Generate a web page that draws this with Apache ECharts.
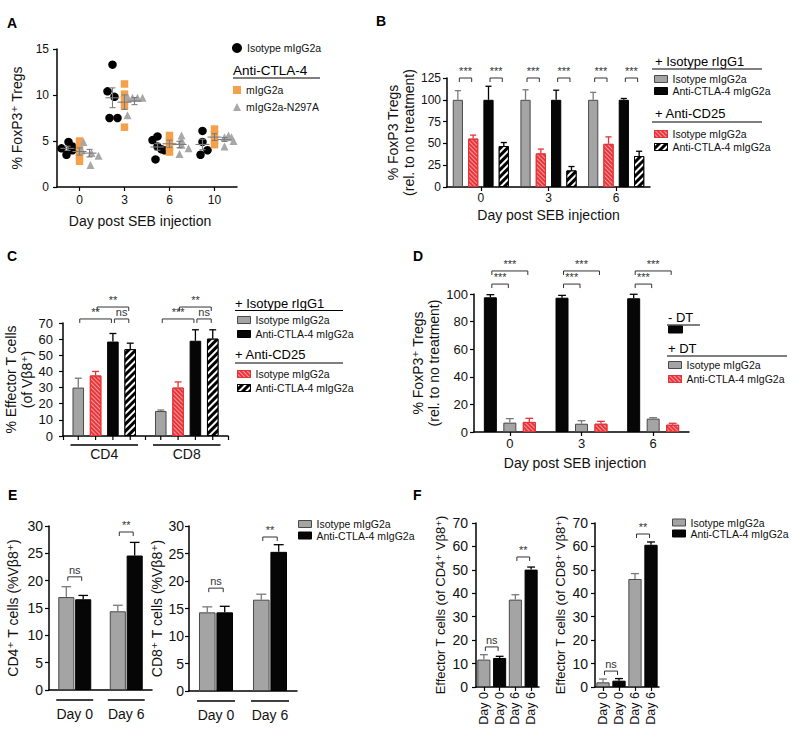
<!DOCTYPE html>
<html><head><meta charset="utf-8">
<script src="https://cdn.jsdelivr.net/npm/echarts@6/dist/echarts.min.js"></script>
<style>html,body{margin:0;padding:0;background:#fff}#c{width:800px;height:741px}</style>
</head><body><div id="c"></div>
<script>
// ================= DATA =================
// Panel A (individual mice)
const A_days = ['0','3','6','10'];
const A_iso = [[4.2,4.9,4.0,3.5,4.4],[13.3,10.4,9.8,7.5,7.5],[5.1,5.5,4.4,4.1,4.0,3.0],[6.1,4.9,3.5,4.0]];
const A_m   = [[5.0,4.4,3.8,3.3,2.8],[11.2,10.1,9.5,8.8,6.5],[5.6,5.0,4.4,3.8],[6.3,5.7,5.1,4.6]];
const A_n   = [[4.9,4.0,3.7,3.4,2.4],[9.8,9.7,9.7,9.7,7.8],[5.6,5.1,4.6,3.6,4.2],[5.4,5.6,5.4,4.4,5.0]];
// Panel B
const B_days = ['0','3','6'];
const B_iso = [100,100,100],    B_iso_err = [10.5,11.5,8.5];
const B_iso25 = [55.5,38.5,49.5], B_iso25_err = [4,5,8];
const B_ctla = [100,100,100],   B_ctla_err = [15.5,11,1.5];
const B_ctla25 = [47,19,35.5],  B_ctla25_err = [4,4.5,5.5];
const B_sig = [[0,0,0,1,125,'***'],[0,2,0,3,125,'***'],[1,0,1,1,125,'***'],[1,2,1,3,125,'***'],[2,0,2,1,125,'***'],[2,2,2,3,125,'***']];
// Panel C
const C_cells = ['CD4','CD8'];
const C_iso = [30,15.5],      C_iso_err = [5.8,0.6];
const C_iso25 = [37.5,30],    C_iso25_err = [2.5,3.5];
const C_ctla = [58.5,59],     C_ctla_err = [5,6.8];
const C_ctla25 = [53.8,60.3], C_ctla25_err = [3.7,5.5];
const C_sig = [[0,0,0,2,72.5,'**'],[0,2,0,3,72.5,'ns'],[0,1,0,3,79.9,'**'],[1,0,1,2,72.5,'***'],[1,2,1,3,72.5,'ns'],[1,1,1,3,79.9,'**']];
// Panel D
const D_days = ['0','3','6'];
const D_noDT = [97.6,97.3,96.9], D_noDT_err = [1.9,1.7,2.9];
const D_iso = [6.8,6.0,9.7],     D_iso_err = [2.9,2.2,0.7];
const D_ctla = [7.3,6.0,5.3],    D_ctla_err = [2.6,1.7,1.0];
const D_sig = [[0,0,0,1,107.2,'***'],[0,0,0,2,116.7,'***'],[1,0,1,1,107.2,'***'],[1,0,1,2,116.7,'***'],[2,0,2,1,107.2,'***'],[2,0,2,2,116.7,'***']];
// Panel E
const E_days = ['Day 0','Day 6'];
const E1_iso = [17.0,14.4],  E1_iso_err = [1.9,1.1];
const E1_ctla = [16.6,24.6], E1_ctla_err = [0.7,2.4];
const E1_sig = [[0,0,0,1,20.7,'ns'],[1,0,1,1,28.9,'**']];
const E2_iso = [14.3,16.6],  E2_iso_err = [1.0,1.0];
const E2_ctla = [14.3,25.3], E2_ctla_err = [1.1,1.3];
const E2_sig = [[0,0,0,1,18.7,'ns'],[1,0,1,1,28.0,'**']];
// Panel F
const F_cats = ['Day 0','Day 0','Day 6','Day 6'];
const F1_iso = [11.7,37.3],  F1_iso_err = [2.1,2.1];
const F1_ctla = [12.4,50.1], F1_ctla_err = [0.7,1.1];
const F1_sig = [[0,0,1,0,17.1,'ns'],[2,0,3,0,55.5,'**']];
const F2_iso = [2.0,46.1],   F2_iso_err = [1.4,2.3];
const F2_ctla = [2.7,60.7],  F2_ctla_err = [0.9,1.2];
const F2_sig = [[0,0,1,0,6.8,'ns'],[2,0,3,0,65.3,'**']];

const LABELS = {A_iso:'Isotype mIgG2a', A_m:'mIgG2a', A_n:'mIgG2a-N297A',
  B_iso:'Isotype mIgG2a', B_ctla:'Anti-CTLA-4 mIgG2a', B_iso25:'Isotype mIgG2a', B_ctla25:'Anti-CTLA-4 mIgG2a',
  C_iso:'Isotype mIgG2a', C_ctla:'Anti-CTLA-4 mIgG2a', C_iso25:'Isotype mIgG2a', C_ctla25:'Anti-CTLA-4 mIgG2a',
  D_noDT:'', D_iso:'Isotype mIgG2a', D_ctla:'Anti-CTLA-4 mIgG2a',
  E_iso:'Isotype mIgG2a', E_ctla:'Anti-CTLA-4 mIgG2a', F_iso:'Isotype mIgG2a', F_ctla:'Anti-CTLA-4 mIgG2a'};

// ================= STYLE =================
const FONT = '"Liberation Sans", Arial, Helvetica, "DejaVu Sans", sans-serif';
const GREY = {color:'#a4a4a4', borderColor:'#4a4a4a', borderWidth:1};
const BLACK = {color:'#060606', borderColor:'#000', borderWidth:1};
const RED = {color:'#f59a9a', borderColor:'#e53238', borderWidth:1,
  decal:{symbol:'rect', symbolSize:1, dashArrayX:[1,0], dashArrayY:[2,1], rotation:Math.PI/4, color:'#e8363c'}};
const STRIPE = {color:'#000', borderColor:'#000', borderWidth:1,
  decal:{symbol:'rect', symbolSize:1, dashArrayX:[1,0], dashArrayY:[2,3], rotation:-Math.PI/4, color:'#ffffff'}};
const ERR = {grey:'#7a7a7a', black:'#000', red:'#e53238'};
const ANNO = '#333333';
// jitter (pixel offsets) for the scatter panel
const A_iso_jit = [[-6,1,5,-1,5],[0,-5,2,-3,5],[-5,0,0,4,7,-2],[0,0,-2,5]];
const A_n_jit = [[-6,-8,2,9,1],[-7,-2,3,8,-7],[2,2,2,0,9],[0,4,7,0,9]];

const GRIDS = [
  {left:57, top:49, width:180, height:138},
  {left:447, top:78, width:203, height:109},
  {left:63, top:323, width:165, height:113},
  {left:474, top:294, width:215, height:138},
  {left:49, top:526, width:103, height:164},
  {left:189, top:526, width:108, height:165},
  {left:476, top:523, width:63, height:164},
  {left:595, top:523, width:64, height:164}
];

// ================= HELPERS =================
function barCenter(api, cat, idx, n, cg, bg){
  const band = api.size([1,0])[0];
  const usable = band*(1-cg);
  const w = usable/(n+(n-1)*bg);
  const x0 = api.coord([cat,0])[0] - usable/2;
  return {x: x0 + idx*w*(1+bg) + w/2, w};
}
function xAxis(gi, data, o){
  o = o||{};
  return {type:'category', gridIndex:gi, data,
    axisLine:{show:true, lineStyle:{color:'#000', width:1.5}},
    axisTick:{show:o.tick!==false, alignWithLabel:o.align!==false, length:4, lineStyle:{color:'#000', width:1.2}},
    axisLabel:{fontSize:o.fs||12, fontFamily:FONT, color:'#111', margin:o.margin||5, rotate:o.rotate||0, interval:0},
    splitLine:{show:false},
    name:o.name||'', nameLocation:'middle', nameGap:o.nameGap||20,
    nameTextStyle:{fontSize:14, fontFamily:FONT, color:'#111', padding:o.namePad||0}};
}
function yAxis(gi, max, interval, name, gap, o){
  o = o||{};
  return {type:'value', gridIndex:gi, min:0, max, interval,
    axisLine:{show:true, lineStyle:{color:'#000', width:1.5}},
    axisTick:{show:true, length:4, lineStyle:{color:'#000', width:1.2}},
    axisLabel:{fontSize:o.fs||12, fontFamily:FONT, color:'#111', margin:o.margin||6},
    splitLine:{show:false},
    name, nameLocation:'middle', nameRotate:90, nameGap:gap,
    nameTextStyle:{fontSize:o.nfs||14, lineHeight:16, fontFamily:FONT, color:'#111'}};
}
function bars(gi, name, data, style, cg, bg){
  return {type:'bar', name, xAxisIndex:gi, yAxisIndex:gi, data, itemStyle:style,
    barCategoryGap:(cg*100)+'%', barGap:(bg*100)+'%', silent:true, z:2};
}
function errs(gi, pts, idx, n, cg, bg, color, tickBelow){
  return {type:'custom', xAxisIndex:gi, yAxisIndex:gi, clip:false, silent:true, z:5,
    itemStyle:{color}, data: pts,
    renderItem(params, api){
      const c = api.value(0), v = api.value(1), e = api.value(2);
      const b = barCenter(api, c, idx, n, cg, bg);
      const y0 = api.coord([c, v])[1], y1 = api.coord([c, v+e])[1];
      const cap = Math.max(b.w*0.3, 2.5);
      const ch = [
        {type:'line', shape:{x1:b.x, y1:y0, x2:b.x, y2:y1}, style:{stroke:color, lineWidth:1.3}},
        {type:'line', shape:{x1:b.x-cap, y1:y1, x2:b.x+cap, y2:y1}, style:{stroke:color, lineWidth:1.3}}
      ];
      if (tickBelow){
        const yb = api.coord([c,0])[1];
        ch.push({type:'line', shape:{x1:b.x, y1:yb, x2:b.x, y2:yb+4}, style:{stroke:'#000', lineWidth:1.2}});
      }
      return {type:'group', children:ch};
    }};
}
function pts(vals, e){ return vals.map((v,i)=>[i, v, e[i]]); }
function brackets(gi, list, n, cg, bg){
  return {type:'custom', xAxisIndex:gi, yAxisIndex:gi, clip:false, silent:true, z:6,
    itemStyle:{color:ANNO, borderColor:ANNO},
    data: list.map(b=>[b[0], b[4]]),
    renderItem(params, api){
      const b = list[params.dataIndex];
      const p1 = barCenter(api, b[0], b[1], n, cg, bg).x + 1.5;
      const p2 = barCenter(api, b[2], b[3], n, cg, bg).x - 1.5;
      const y = api.coord([b[0], b[4]])[1];
      return {type:'polyline', shape:{points:[[p1,y+4],[p1,y],[p2,y],[p2,y+4]]},
        style:{stroke:'#333', lineWidth:1, fill:null},
        textContent:{style:{text:b[5], fontSize:11, fontFamily:FONT, fill:ANNO}},
        textConfig:{position:'top', distance:-1, outsideFill:ANNO, insideFill:ANNO}};
    }};
}
function underline(gi, ncat, n, cg, bg, offY){
  return {type:'custom', xAxisIndex:gi, yAxisIndex:gi, clip:false, silent:true,
    itemStyle:{color:'#000'},
    data: Array.from({length:ncat}, (_,i)=>[i,0]),
    renderItem(params, api){
      const c = api.value(0);
      const a = barCenter(api,c,0,n,cg,bg), z = barCenter(api,c,n-1,n,cg,bg);
      const y = api.coord([c,0])[1] + offY;
      return {type:'line', shape:{x1:a.x-a.w/2-2, y1:y, x2:z.x+z.w/2+2, y2:y}, style:{stroke:'#000', lineWidth:1.4}};
    }};
}
function mean(a){ return a.reduce((s,v)=>s+v,0)/a.length; }
function sem(a){ const m = mean(a); const sd = Math.sqrt(a.reduce((s,v)=>s+(v-m)*(v-m),0)/(a.length-1)); return sd/Math.sqrt(a.length); }
function scatter(name, groups, jit, base, symbol, size, color){
  const data = [];
  groups.forEach((g,c)=>g.forEach((v,i)=>data.push({value:[c,v], symbolOffset:[base+(jit?jit[c][i]:0),0]})));
  return {type:'scatter', name, xAxisIndex:0, yAxisIndex:0, symbol, symbolSize:size, itemStyle:{color, opacity:1}, data, silent:true, z:3};
}
function meanSeries(groups, off){
  return {type:'custom', xAxisIndex:0, yAxisIndex:0, clip:false, silent:true, z:4,
    itemStyle:{color:'#7d7d7d'},
    data: groups.map((g,i)=>[i, mean(g), sem(g)]),
    renderItem(params, api){
      const c = api.value(0), m = api.value(1), s = api.value(2);
      const p = api.coord([c,m]); const x = p[0]+off, y = p[1];
      const yt = api.coord([c,m+s])[1], yb = api.coord([c,m-s])[1];
      const st = {stroke:'#7d7d7d', lineWidth:1.1};
      return {type:'group', children:[
        {type:'line', shape:{x1:x-7,y1:y,x2:x+7,y2:y}, style:st},
        {type:'line', shape:{x1:x,y1:yt,x2:x,y2:yb}, style:st},
        {type:'line', shape:{x1:x-3,y1:yt,x2:x+3,y2:yt}, style:st},
        {type:'line', shape:{x1:x-3,y1:yb,x2:x+3,y2:yb}, style:st}
      ]};
    }};
}
function leg(name, left, cy, o){
  o = o||{};
  return {show:true, selectedMode:false, orient:'vertical', left, top:cy-6, padding:0,
    itemWidth:o.w||13, itemHeight:o.h||7, icon:o.icon||'rect', data:[name],
    formatter:(n)=>LABELS[n], itemStyle:{borderWidth:1},
    textStyle:{fontSize:10.5, lineHeight:12, fontFamily:FONT, color:'#111'}};
}
function txt(t, x, y, fs, bold){ return {type:'text', x, y, silent:true, style:{text:t, fontSize:fs, fontWeight:bold?'bold':'normal', fontFamily:FONT, fill:'#000', verticalAlign:'middle'}}; }
function hline(x1, x2, y){ return {type:'line', silent:true, shape:{x1, y1:y, x2, y2:y}, style:{stroke:'#000', lineWidth:1.2}}; }

// ================= OPTION =================
const cgB=0.17, bgB=0.5, cgC=0.23, bgC=0.5, cgD=0.275, bgD=0.5, cgE1=0.36, cgE2=0.37, bgE=0.05, cgF=0.17;

const xAxes = [
  xAxis(0, A_days, {name:'Day post SEB injection', nameGap:27, namePad:[0,14,0,0], margin:7}),
  xAxis(1, B_days, {name:'Day post SEB injection', nameGap:21}),
  xAxis(2, C_cells, {align:false, fs:14, margin:11}),
  xAxis(3, D_days, {name:'Day post SEB injection', nameGap:24, namePad:[0,13,0,0], fs:13}),
  xAxis(4, E_days, {tick:false, fs:14, margin:17}),
  xAxis(5, E_days, {tick:false, fs:14, margin:17}),
  xAxis(6, F_cats, {fs:12.5, rotate:90, margin:5}),
  xAxis(7, F_cats, {fs:12.5, rotate:90, margin:5})
];
const yAxes = [
  yAxis(0, 15, 5, '% FoxP3\u207A Tregs', 32, {margin:8}),
  yAxis(1, 125, 25, '% FoxP3 Tregs\n(rel. to no treatment)', 30, {margin:6}),
  yAxis(2, 70, 10, '% Effector T cells\n(of V\u03B28\u207A)', 27, {fs:13, margin:10}),
  yAxis(3, 100, 20, '% FoxP3\u207A Tregs\n(rel. to no treatment)', 28, {fs:13, margin:6}),
  yAxis(4, 30, 5, 'CD4\u207A T cells (%V\u03B28\u207A)', 28, {fs:14, margin:6}),
  yAxis(5, 30, 5, 'CD8\u207A T cells (%V\u03B28\u207A)', 24, {fs:14, margin:5}),
  yAxis(6, 70, 10, 'Effector T cells (of CD4\u207A V\u03B28\u207A)', 26, {fs:14, margin:8, nfs:13}),
  yAxis(7, 70, 10, 'Effector T cells (of CD8\u207A V\u03B28\u207A)', 21, {fs:14, margin:7, nfs:13})
];

const series = [
  // A
  scatter('A_iso', A_iso, A_iso_jit, -12, 'circle', 8.5, '#000'),
  scatter('A_m', A_m, null, 0, 'rect', 7.5, '#f5a04a'),
  scatter('A_n', A_n, A_n_jit, 10, 'triangle', 8, '#a8a8a8'),
  meanSeries(A_iso, -12), meanSeries(A_m, 0), meanSeries(A_n, 10),
  // B
  bars(1,'B_iso',B_iso,GREY,cgB,bgB), bars(1,'B_iso25',B_iso25,RED,cgB,bgB),
  bars(1,'B_ctla',B_ctla,BLACK,cgB,bgB), bars(1,'B_ctla25',B_ctla25,STRIPE,cgB,bgB),
  errs(1,pts(B_iso,B_iso_err),0,4,cgB,bgB,ERR.grey), errs(1,pts(B_iso25,B_iso25_err),1,4,cgB,bgB,ERR.red),
  errs(1,pts(B_ctla,B_ctla_err),2,4,cgB,bgB,ERR.black), errs(1,pts(B_ctla25,B_ctla25_err),3,4,cgB,bgB,ERR.black),
  brackets(1,B_sig,4,cgB,bgB),
  // C
  bars(2,'C_iso',C_iso,GREY,cgC,bgC), bars(2,'C_iso25',C_iso25,RED,cgC,bgC),
  bars(2,'C_ctla',C_ctla,BLACK,cgC,bgC), bars(2,'C_ctla25',C_ctla25,STRIPE,cgC,bgC),
  errs(2,pts(C_iso,C_iso_err),0,4,cgC,bgC,ERR.grey,true), errs(2,pts(C_iso25,C_iso25_err),1,4,cgC,bgC,ERR.red,true),
  errs(2,pts(C_ctla,C_ctla_err),2,4,cgC,bgC,ERR.black,true), errs(2,pts(C_ctla25,C_ctla25_err),3,4,cgC,bgC,ERR.black,true),
  brackets(2,C_sig,4,cgC,bgC), underline(2,2,4,cgC,bgC,9),
  // D
  bars(3,'D_noDT',D_noDT,BLACK,cgD,bgD), bars(3,'D_iso',D_iso,GREY,cgD,bgD), bars(3,'D_ctla',D_ctla,RED,cgD,bgD),
  errs(3,pts(D_noDT,D_noDT_err),0,3,cgD,bgD,ERR.black), errs(3,pts(D_iso,D_iso_err),1,3,cgD,bgD,ERR.grey),
  errs(3,pts(D_ctla,D_ctla_err),2,3,cgD,bgD,ERR.red),
  brackets(3,D_sig,3,cgD,bgD),
  // E1
  bars(4,'E_iso',E1_iso,GREY,cgE1,bgE), bars(4,'E_ctla',E1_ctla,BLACK,cgE1,bgE),
  errs(4,pts(E1_iso,E1_iso_err),0,2,cgE1,bgE,ERR.grey), errs(4,pts(E1_ctla,E1_ctla_err),1,2,cgE1,bgE,ERR.black),
  brackets(4,E1_sig,2,cgE1,bgE), underline(4,2,2,cgE1,bgE,10),
  // E2
  bars(5,'E_iso',E2_iso,GREY,cgE2,bgE), bars(5,'E_ctla',E2_ctla,BLACK,cgE2,bgE),
  errs(5,pts(E2_iso,E2_iso_err),0,2,cgE2,bgE,ERR.grey), errs(5,pts(E2_ctla,E2_ctla_err),1,2,cgE2,bgE,ERR.black),
  brackets(5,E2_sig,2,cgE2,bgE), underline(5,2,2,cgE2,bgE,10),
  // F1
  bars(6,'F_iso',[F1_iso[0],'-',F1_iso[1],'-'],GREY,cgF,-1), bars(6,'F_ctla',['-',F1_ctla[0],'-',F1_ctla[1]],BLACK,cgF,-1),
  errs(6,[[0,F1_iso[0],F1_iso_err[0]],[2,F1_iso[1],F1_iso_err[1]]],0,1,cgF,0,ERR.grey),
  errs(6,[[1,F1_ctla[0],F1_ctla_err[0]],[3,F1_ctla[1],F1_ctla_err[1]]],0,1,cgF,0,ERR.black),
  brackets(6,F1_sig,1,cgF,0),
  // F2
  bars(7,'F_iso',[F2_iso[0],'-',F2_iso[1],'-'],GREY,cgF,-1), bars(7,'F_ctla',['-',F2_ctla[0],'-',F2_ctla[1]],BLACK,cgF,-1),
  errs(7,[[0,F2_iso[0],F2_iso_err[0]],[2,F2_iso[1],F2_iso_err[1]]],0,1,cgF,0,ERR.grey),
  errs(7,[[1,F2_ctla[0],F2_ctla_err[0]],[3,F2_ctla[1],F2_ctla_err[1]]],0,1,cgF,0,ERR.black),
  brackets(7,F2_sig,1,cgF,0)
];

const legends = [
  leg('A_iso', 232, 48, {icon:'circle', w:10, h:10}),
  leg('A_m', 233, 90, {w:8, h:8}),
  leg('A_n', 233, 107, {icon:'triangle', w:8, h:8}),
  leg('B_iso', 654, 79), leg('B_ctla', 654, 91), leg('B_iso25', 654, 134), leg('B_ctla25', 654, 147),
  leg('C_iso', 237, 320), leg('C_ctla', 237, 334), leg('C_iso25', 237, 374), leg('C_ctla25', 237, 388),
  leg('D_noDT', 668, 331.5, {w:14}), leg('D_iso', 668, 365), leg('D_ctla', 668, 379),
  leg('E_iso', 298, 524), leg('E_ctla', 298, 535.5),
  leg('F_iso', 672, 522.5), leg('F_ctla', 672, 533.5)
];

const graphics = [
  txt('A', 7, 23, 14, true), txt('B', 376, 21, 14, true), txt('C', 7, 256, 14, true),
  txt('D', 413, 256, 14, true), txt('E', 8, 495, 14, true), txt('F', 413, 495, 14, true),
  txt('Anti-CTLA-4', 233, 70, 13.5), hline(233, 320, 78),
  txt('+ Isotype rIgG1', 655, 61, 13), hline(652, 762, 69),
  txt('+ Anti-CD25', 655, 113, 13), hline(652, 762, 122),
  txt('+ Isotype rIgG1', 235, 303, 13), hline(235, 343, 310.5),
  txt('+ Anti-CD25', 235, 354, 13), hline(235, 343, 363),
  txt('- DT', 668, 317, 13), hline(667, 700, 325),
  txt('+ DT', 668, 348, 13), hline(667, 787, 356)
];

const chart = echarts.init(document.getElementById('c'), null, {renderer:'svg', width:800, height:741});
chart.setOption({
  animation:false, backgroundColor:'#fff',
  textStyle:{fontFamily:FONT},
  grid: GRIDS, xAxis: xAxes, yAxis: yAxes, series, legend: legends,
  graphic: {elements: graphics}
});
</script>
</body></html>
